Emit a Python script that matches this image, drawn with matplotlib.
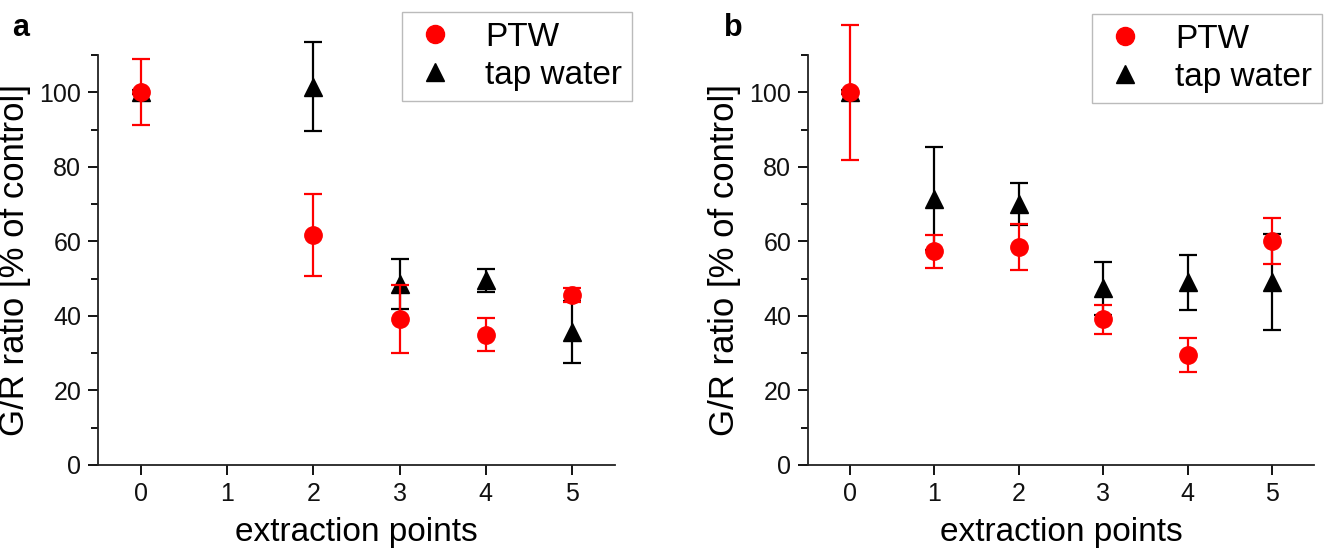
import matplotlib.pyplot as plt
from matplotlib.lines import Line2D
import numpy as np

plt.rcParams['font.family'] = ['Liberation Sans', 'DejaVu Sans']

# panel a
x_a = [0, 2, 3, 4, 5]
ptw_a = [100, 61.6, 39.2, 35.0, 45.6]
ptw_a_err = [8.8, 11.0, 9.2, 4.4, 1.9]
tap_a = [100, 101.5, 48.6, 49.6, 35.8]
tap_a_err = [0.5, 11.9, 6.8, 3.1, 8.3]

# panel b
x_b = [0, 1, 2, 3, 4, 5]
ptw_b = [100, 57.3, 58.4, 39.1, 29.6, 60.1]
ptw_b_err = [18.1, 4.5, 6.2, 3.9, 4.6, 6.2]
tap_b = [100, 71.5, 70.0, 47.4, 49.0, 49.0]
tap_b_err = [0.5, 13.7, 5.7, 7.1, 7.3, 12.9]

fig = plt.figure(figsize=(13.26, 5.53), dpi=100)
ax_a = fig.add_axes([98/1326, 88/553, 517/1326, 410/553])
ax_b = fig.add_axes([808/1326, 88/553, 506/1326, 410/553])


def panel(ax, x, ptw, ptw_err, tap, tap_err, letter, lx, leg_anchor):
    ax.errorbar(x, tap, yerr=tap_err, fmt='^', color='black', ms=13,
                capsize=6.5, capthick=1.6, elinewidth=1.6, clip_on=False, zorder=3)
    ax.errorbar(x, ptw, yerr=ptw_err, fmt='o', color='red', ms=12.5,
                capsize=6.5, capthick=1.6, elinewidth=1.6, clip_on=False, zorder=4)
    ax.set_xlim(-0.5, 5.5)
    ax.set_ylim(0, 110)
    ax.set_xticks(range(6))
    ax.set_yticks(range(0, 101, 20))
    ax.set_yticks(range(10, 111, 20), minor=True)
    for s in ['top', 'right']:
        ax.spines[s].set_visible(False)
    for s in ['left', 'bottom']:
        ax.spines[s].set_linewidth(1.3)
        ax.spines[s].set_color('#222222')
    ax.tick_params(which='major', length=7, width=1.3, labelsize=18, pad=5,
                   labelcolor='#111111')
    ax.tick_params(which='minor', length=5, width=1.3)
    ax.tick_params(axis='x', which='minor', bottom=False)
    ax.set_xlabel('extraction points', fontsize=24, labelpad=8)
    ax.set_ylabel('G/R ratio [% of control]', fontsize=25, labelpad=6)
    fig.text(lx, 1 - 28/553, letter, fontsize=22, fontweight='bold',
             ha='left', va='center')
    handles = [Line2D([], [], ls='none', marker='o', color='red', ms=13),
               Line2D([], [], ls='none', marker='^', color='black', ms=13)]
    leg = ax.legend(handles, ['PTW', 'tap water'], loc='upper right',
                    bbox_to_anchor=leg_anchor, bbox_transform=fig.transFigure,
                    fontsize=24, frameon=True, fancybox=False, borderpad=0.3,
                    labelspacing=0.2, handletextpad=0.8, handlelength=1.4,
                    borderaxespad=0)
    leg.get_frame().set_edgecolor('#aaaaaa')
    leg.get_frame().set_linewidth(1.0)


panel(ax_a, x_a, ptw_a, ptw_a_err, tap_a, tap_a_err, 'a', 12/1326,
      (632/1326, 1 - 12/553))
panel(ax_b, x_b, ptw_b, ptw_b_err, tap_b, tap_b_err, 'b', 724/1326,
      (1322/1326, 1 - 14/553))

fig.savefig('out.png', dpi=100)
